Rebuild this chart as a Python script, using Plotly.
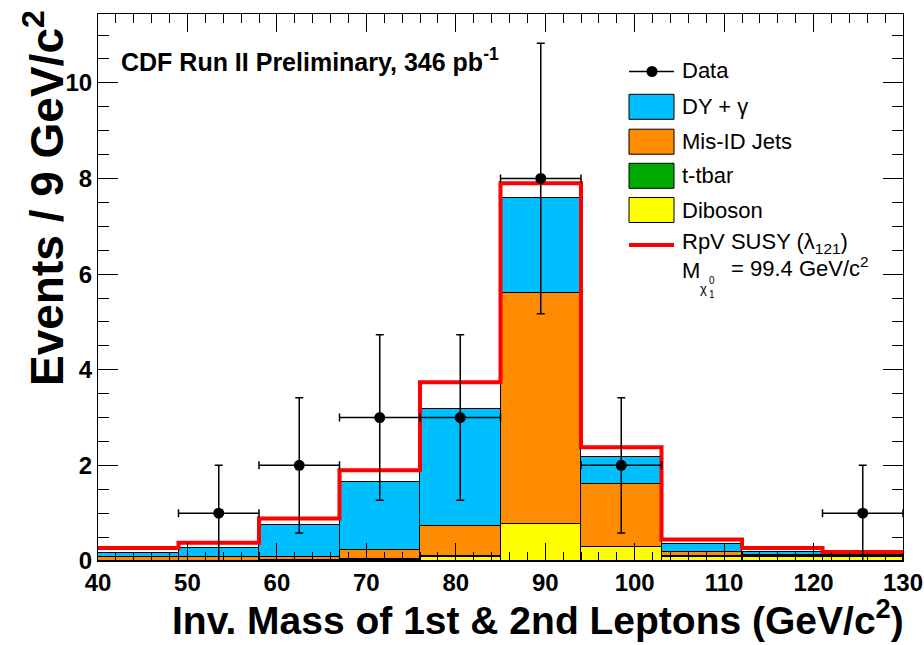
import numpy as np
import plotly.graph_objects as go

# Binning: 10 bins of 9 GeV/c^2 from 40 to 130
bin_edges = [40, 49, 58, 67, 76, 85, 94, 103, 112, 121, 130]
bin_centers = [44.5, 53.5, 62.5, 71.5, 80.5, 89.5, 98.5, 107.5, 116.5, 125.5]

# Background contributions per bin (events / 9 GeV/c^2), stacked bottom to top
diboson = [0.01, 0.01, 0.02, 0.03, 0.09, 0.77, 0.29, 0.09, 0.09, 0.09]
ttbar = [0.00, 0.00, 0.00, 0.01, 0.01, 0.00, 0.01, 0.02, 0.02, 0.02]
misid_jets = [0.07, 0.07, 0.07, 0.19, 0.64, 4.83, 1.31, 0.08, 0.02, 0.01]
dy_gamma = [0.09, 0.20, 0.66, 1.42, 2.44, 2.00, 0.57, 0.16, 0.06, 0.02]

# RpV SUSY signal stacked on the total background
signal = [0.10, 0.10, 0.14, 0.25, 0.56, 0.30, 0.20, 0.10, 0.08, 0.05]

# Observed events
data_counts = [0, 1, 2, 3, 3, 8, 2, 0, 0, 1]

x_ticks = [40, 50, 60, 70, 80, 90, 100, 110, 120, 130]
y_ticks = [0, 2, 4, 6, 8, 10]

FONT = "Liberation Sans, Arial, Helvetica, sans-serif"
W, H = 924, 645
L, R, T, B = 98, 21, 14, 84
PW, PH = W - L - R, H - T - B


def px(x):
    return (x - L) / PW


def py(y):
    return (H - B - y) / PH


fig = go.Figure()

layers = [
    ("Diboson", diboson, "#ffff00"),
    ("t-tbar", ttbar, "#00aa00"),
    ("Mis-ID Jets", misid_jets, "#ff8c00"),
    ("DY + γ", dy_gamma, "#00bfff"),
]
for name, vals, col in layers:
    fig.add_trace(go.Bar(
        x=bin_centers, y=vals, width=9, name=name,
        marker=dict(color=col, line=dict(color="black", width=1)),
        showlegend=False,
    ))

# Signal + background outline as a step histogram
bkg_total = np.array(diboson) + np.array(ttbar) + np.array(misid_jets) + np.array(dy_gamma)
sig_total = bkg_total + np.array(signal)
step_y = list(sig_total) + [sig_total[-1]]
fig.add_trace(go.Scatter(
    x=bin_edges, y=step_y, mode="lines", line=dict(color="#ff0000", width=4, shape="hv"),
    showlegend=False,
))

# Data points with sqrt(N) errors and bin-width horizontal bars
counts = np.array(data_counts, dtype=float)
mask = counts > 0
dx = np.array(bin_centers)[mask]
dy = counts[mask]
fig.add_trace(go.Scatter(
    x=dx, y=dy, mode="markers",
    marker=dict(color="black", size=11),
    error_y=dict(type="data", array=np.sqrt(dy), color="black", thickness=1.5, width=4),
    error_x=dict(type="data", array=[4.5] * len(dx), color="black", thickness=1.5, width=4),
    showlegend=False,
))

tick_font = dict(family=FONT, size=24, color="black", weight="bold")

fig.update_layout(
    width=W, height=H,
    margin=dict(l=L, r=R, t=T, b=B),
    paper_bgcolor="white", plot_bgcolor="white",
    barmode="stack", bargap=0,
    xaxis=dict(
        range=[40, 130], tickvals=x_ticks, ticktext=[str(v) for v in x_ticks],
        ticks="inside", ticklen=18, tickwidth=1, tickcolor="black",
        minor=dict(dtick=2, ticks="inside", ticklen=9, tickwidth=1, tickcolor="black"),
        showline=True, linecolor="black", linewidth=1, mirror="allticks",
        showgrid=False, zeroline=False, tickfont=tick_font, automargin=False,
    ),
    yaxis=dict(
        range=[0, 11.44], tickvals=y_ticks, ticktext=[str(v) for v in y_ticks],
        ticks="inside", ticklen=20, tickwidth=1, tickcolor="black",
        minor=dict(dtick=0.5, ticks="inside", ticklen=11, tickwidth=1, tickcolor="black"),
        showline=True, linecolor="black", linewidth=1, mirror="allticks",
        showgrid=False, zeroline=False, tickfont=tick_font, automargin=False,
    ),
    font=dict(family=FONT, color="black"),
)

annotations = []
shapes = []

# Axis titles
annotations.append(dict(
    text="Inv. Mass of 1st &amp; 2nd Leptons (GeV/c<sup>2</sup>)",
    xref="paper", yref="paper", x=px(906), y=py(617), xanchor="right", yanchor="middle",
    showarrow=False, font=dict(family=FONT, size=39, color="black", weight="bold"),
))
annotations.append(dict(
    text="Events / 9 GeV/c<sup>2</sup>",
    xref="paper", yref="paper", x=px(44), y=py(8), xanchor="center", yanchor="top",
    textangle=-90, showarrow=False,
    font=dict(family=FONT, size=46, color="black", weight="bold"),
))

# Experiment label
annotations.append(dict(
    text="CDF Run II Preliminary, 346 pb<sup>-1</sup>",
    xref="paper", yref="paper", x=px(119), y=py(60), xanchor="left", yanchor="middle",
    showarrow=False, font=dict(family=FONT, size=25, color="black", weight="bold"),
))

# Legend
leg_font = dict(family=FONT, size=22, color="black")
x0, x1, xt = 629, 674, 680
rows = [
    ("DY + γ", "#00bfff", 106.8),
    ("Mis-ID Jets", "#ff8c00", 141.7),
    ("t-tbar", "#00aa00", 175.8),
    ("Diboson", "#ffff00", 210.0),
]
for label, col, yc in rows:
    shapes.append(dict(
        type="rect", xref="paper", yref="paper",
        x0=px(x0), x1=px(x1), y0=py(yc + 12.5), y1=py(yc - 12.5),
        fillcolor=col, line=dict(color="black", width=1),
    ))
    annotations.append(dict(
        text=label, xref="paper", yref="paper", x=px(xt), y=py(yc),
        xanchor="left", yanchor="middle", showarrow=False, font=leg_font,
    ))

# Data entry
shapes.append(dict(type="line", xref="paper", yref="paper",
                   x0=px(x0), x1=px(x1), y0=py(71.5), y1=py(71.5),
                   line=dict(color="black", width=1.5)))
shapes.append(dict(type="circle", xref="paper", yref="paper",
                   xsizemode="pixel", ysizemode="pixel",
                   xanchor=px(652), yanchor=py(71.5),
                   x0=-5.5, x1=5.5, y0=-5.5, y1=5.5,
                   fillcolor="black", line=dict(color="black", width=0)))
annotations.append(dict(text="Data", xref="paper", yref="paper", x=px(xt), y=py(71),
                        xanchor="left", yanchor="middle", showarrow=False, font=leg_font))

# Signal entry
shapes.append(dict(type="line", xref="paper", yref="paper",
                   x0=px(x0), x1=px(x1), y0=py(245), y1=py(245),
                   line=dict(color="#ff0000", width=4)))
annotations.append(dict(text="RpV SUSY (λ<sub>121</sub>)", xref="paper", yref="paper",
                        x=px(xt), y=py(243), xanchor="left", yanchor="middle",
                        showarrow=False, font=leg_font))
annotations.append(dict(text="M", xref="paper", yref="paper", x=px(xt), y=py(270),
                        xanchor="left", yanchor="middle", showarrow=False, font=leg_font))
annotations.append(dict(text="χ", xref="paper", yref="paper", x=px(698), y=py(288),
                        xanchor="left", yanchor="middle", showarrow=False,
                        font=dict(family=FONT, size=13, color="black")))
annotations.append(dict(text="0", xref="paper", yref="paper", x=px(707), y=py(280),
                        xanchor="left", yanchor="middle", showarrow=False,
                        font=dict(family=FONT, size=10, color="black")))
annotations.append(dict(text="1", xref="paper", yref="paper", x=px(707), y=py(294),
                        xanchor="left", yanchor="middle", showarrow=False,
                        font=dict(family=FONT, size=10, color="black")))
annotations.append(dict(text="= 99.4 GeV/c<sup>2</sup>", xref="paper", yref="paper",
                        x=px(729), y=py(267), xanchor="left", yanchor="middle",
                        showarrow=False, font=leg_font))

fig.update_layout(annotations=annotations, shapes=shapes)

fig.write_html("out.html")
